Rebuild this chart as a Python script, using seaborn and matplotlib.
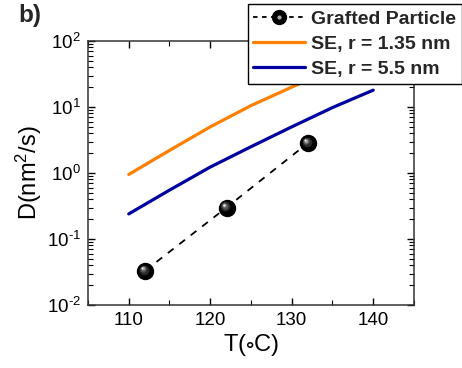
import numpy as np
import pandas as pd
import matplotlib
matplotlib.use("Agg")
import matplotlib.pyplot as plt
import matplotlib.transforms as mtransforms
from matplotlib.legend_handler import HandlerTuple
import seaborn as sns

# Measured diffusion of grafted particles
T_grafted = [112, 122, 132]
D_grafted = [0.033, 0.30, 2.85]

# Stokes-Einstein predictions
T_se = [110, 115, 120, 125, 130, 135, 140]
D_se_small = [0.95, 2.2, 5.0, 10.5, 20.0, 37.0, 65.0]   # r = 1.35 nm
D_se_large = [0.24, 0.55, 1.23, 2.5, 5.0, 9.8, 18.0]    # r = 5.5 nm

x_ticks = [110, 120, 130, 140]

sns.set_theme(style="ticks")
plt.rcParams["font.family"] = ["Liberation Sans", "DejaVu Sans"]
plt.rcParams["mathtext.fontset"] = "custom"
plt.rcParams["mathtext.rm"] = "Liberation Sans"
plt.rcParams["mathtext.it"] = "Liberation Sans"
plt.rcParams["mathtext.default"] = "regular"

fig = plt.figure(figsize=(4.62, 3.68), dpi=100)
ax = fig.add_axes([0.1905, 0.1712, 0.7055, 0.7174])

df_se = pd.DataFrame({"T": T_se, "small": D_se_small, "large": D_se_large})
df_gr = pd.DataFrame({"T": T_grafted, "D": D_grafted})

sns.lineplot(data=df_se, x="T", y="small", ax=ax, color="#ff8000", lw=2.3,
             label="SE, r = 1.35 nm", zorder=3)
sns.lineplot(data=df_se, x="T", y="large", ax=ax, color="#0000a0", lw=2.3,
             label="SE, r = 5.5 nm", zorder=3)

# dashed guide with spherical markers (shaded by stacked highlights)
gr_line, = ax.plot(df_gr["T"], df_gr["D"], color="black", ls=(0, (4, 4)), lw=1.3,
                   marker="o", ms=11.5, mfc="black", mec="black", zorder=4)
for ms, col, off in [(7, "#2a2a2a", 0.9), (4.5, "#555555", 1.4), (2.8, "#9a9a9a", 1.7), (1.4, "#eeeeee", 1.9)]:
    tr = mtransforms.offset_copy(ax.transData, fig=fig, x=-off, y=off, units="points")
    ax.plot(df_gr["T"], df_gr["D"], ls="none", marker="o", ms=ms, mfc=col,
            mec="none", transform=tr, zorder=5)

ax.set_yscale("log")
ax.set_xlim(105, 145)
ax.set_ylim(1e-2, 1e2)
ax.set_xticks(x_ticks)
ax.xaxis.set_minor_locator(matplotlib.ticker.MultipleLocator(5))
ax.yaxis.set_major_locator(matplotlib.ticker.LogLocator(base=10, numticks=10))
ax.yaxis.set_minor_locator(matplotlib.ticker.LogLocator(base=10, subs=np.arange(2, 10), numticks=20))
ax.yaxis.set_minor_formatter(matplotlib.ticker.NullFormatter())


def pow10_label(v, pos):
    e = int(round(np.log10(v)))
    sign = "\\text{-}" if e < 0 else ""
    return f"$10^{{{sign}{abs(e)}}}$"


ax.yaxis.set_major_formatter(matplotlib.ticker.FuncFormatter(pow10_label))

ax.tick_params(which="both", direction="in", top=True, right=True, color="black")
ax.tick_params(which="major", length=5, width=1, labelsize=13.5, pad=5, labelcolor="black")
ax.tick_params(which="minor", length=3.5, width=0.8)
for sp in ax.spines.values():
    sp.set_color("#333333")
    sp.set_linewidth(1.1)

ax.set_xlabel("T($\\circ$C)", fontsize=17, labelpad=2, color="black")
ax.set_ylabel("D(nm$^2$/s)", fontsize=17, labelpad=2, color="black")

handles, labels = ax.get_legend_handles_labels()
leg_line, = ax.plot([], [], color="black", ls=(0, (2.5, 2.5)), lw=1.3,
                    marker="o", ms=10, mfc="black", mec="black")
leg_hi, = ax.plot([], [], ls="none", marker="o", ms=3, mfc="#aaaaaa", mec="none")
gr_handle = (leg_line, leg_hi)
leg = fig.legend([gr_handle] + handles, ["Grafted Particle"] + labels,
                 handler_map={tuple: HandlerTuple(ndivide=1)},
                 loc="upper right", bbox_to_anchor=(0.999, 0.988),
                 prop={"weight": "bold", "size": 14}, frameon=True, fancybox=False,
                 edgecolor="black", framealpha=1, handlelength=2.65, handletextpad=0.3,
                 labelspacing=0.38, borderpad=0.3, borderaxespad=0)
leg.get_frame().set_linewidth(1)
if ax.get_legend():
    ax.get_legend().remove()

fig.text(0.04, 0.99, "b)", fontsize=17.5, fontweight="bold", va="top", ha="left")

fig.savefig("out.png", dpi=100)
